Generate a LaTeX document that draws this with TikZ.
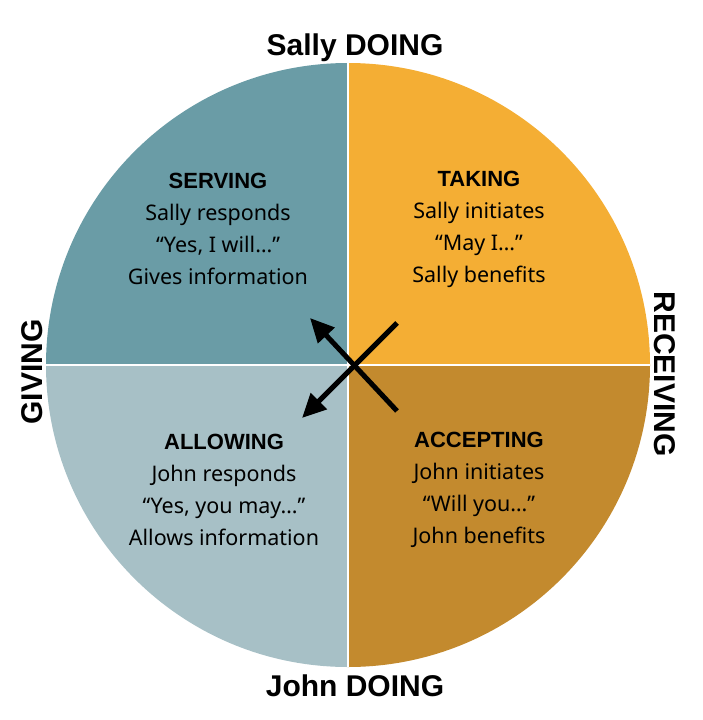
\documentclass[tikz,border=0pt]{standalone}
\usepackage{fontspec}
\setmainfont{Liberation Sans}
\newfontfamily\bodyfont{Noto Sans}
\usetikzlibrary{arrows.meta}
\definecolor{cTL}{HTML}{6A9CA6}
\definecolor{cTR}{HTML}{F4AE34}
\definecolor{cBL}{HTML}{A7C0C6}
\definecolor{cBR}{HTML}{C38A2E}
\tikzset{
  quad/.style={draw=white,line width=2pt},
  qtext/.style={align=center,font=\bodyfont\fontsize{21.5}{32}\selectfont,text=black},
  axis/.style={font=\bfseries\fontsize{30}{32}\selectfont,text=black},
  xarrow/.style={line width=5pt,-{Triangle[length=24pt,width=22pt]}}
}
\newcommand{\hd}[1]{{\fontsize{22}{32}\selectfont\bfseries\rmfamily #1}}
\begin{document}
\begin{tikzpicture}[x=1pt,y=-1pt]
\useasboundingbox (0,0) rectangle (703,720);
\coordinate (c) at (348,365);
\fill[cTL] (c) -- (46,365) arc[start angle=180,end angle=270,radius=302] -- cycle;
\fill[cTR] (c) -- (348,63) arc[start angle=270,end angle=360,radius=302] -- cycle;
\fill[cBR] (c) -- (650,365) arc[start angle=0,end angle=90,radius=302] -- cycle;
\fill[cBL] (c) -- (348,667) arc[start angle=90,end angle=180,radius=302] -- cycle;
\draw[quad] (348,63) -- (348,667);
\draw[quad] (46,365) -- (650,365);

\node[qtext] (serving) at (218,229) {\hd{SERVING}\\Sally responds\\“Yes, I will…”\\Gives information};
\node[qtext] (taking) at (479,229) {\hd{TAKING}\\Sally initiates\\“May I…”\\Sally benefits};
\node[qtext] (allowing) at (224,490) {\hd{ALLOWING}\\John responds\\“Yes, you may…”\\Allows information};
\node[qtext] (accepting) at (479,490) {\hd{ACCEPTING}\\John initiates\\“Will you…”\\John benefits};

\node[axis] (sally) at (355,48) {Sally DOING};
\node[axis] (john) at (355,686) {John DOING};
\node[axis,rotate=-90] (recv) at (665,374) {RECEIVING};
\node[axis,rotate=90] (giving) at (32,372) {GIVING};

\coordinate (a1) at (397,323);
\coordinate (a1h) at (302,418);
\coordinate (a2) at (397,411);
\coordinate (a2h) at (310,318);
\draw[xarrow] (a1) -- (a1h);
\draw[xarrow] (a2) -- (a2h);
\end{tikzpicture}
\end{document}
